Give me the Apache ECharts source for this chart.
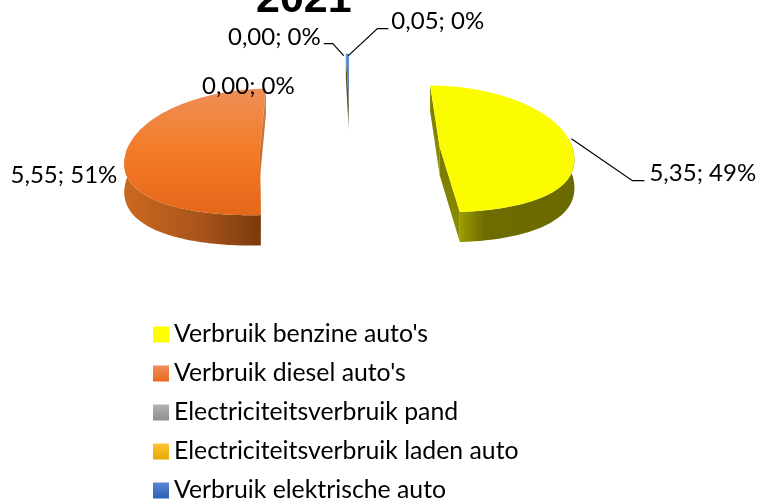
<!DOCTYPE html>
<html>
<head>
<meta charset="utf-8">
<style>
    html, body { margin: 0; padding: 0; background: #fff; }
    #chart { width: 762px; height: 500px; }
</style>
<script src="https://cdn.jsdelivr.net/npm/echarts@6/dist/echarts.min.js"></script>
</head>
<body>
<div id="chart"></div>
<script>
    const chartTitle = '2021'
    const categories = ["Verbruik benzine auto's", "Verbruik diesel auto's", 'Electriciteitsverbruik pand', 'Electriciteitsverbruik laden auto', 'Verbruik elektrische auto']
    const values = [5.35, 5.55, 0, 0, 0.05]

    const total = values.reduce((a, b) => a + b, 0)
    const FONT = 'Lato'

    // fake 3d pie: slices are projected by hand, excel draws them with a bit of perspective
    const CX = 350, CY = 149, RADIUS = 133, EXPLODE = 90, DEPTH = 28
    const PERSPECTIVE = 0.0008

    function grad(x, y, x2, y2, stops) {
        return new echarts.graphic.LinearGradient(x, y, x2, y2, stops.map((c, i) => ({
            offset: c[1] !== undefined ? c[1] : i / (stops.length - 1),
            color: c[0]
        })))
    }

    const styles = [
        {
            face: grad(0, 0, 0, 1, [['#fcfc00'], ['#fcfc00']]),
            wall: grad(0, 0, 1, 0, [['#9c9c00', 0], ['#6c6c00', 0.22], ['#6a6a00', 1]]),
            side: grad(0, 0, 0, 1, [['#777700'], ['#8f8f00']]),
            legend: '#ffff00'
        },
        {
            face: grad(0, 0, 0, 1, [['#ee8f58', 0], ['#f37b28', 0.5], ['#e4671a', 1]]),
            wall: grad(0, 0, 1, 0, [['#cb681f', 0], ['#a9551a', 0.55], ['#7a3a0c', 1]]),
            side: grad(0, 0, 0, 1, [['#d08048'], ['#c06a20']]),
            legend: grad(0, 0, 0, 1, [['#ee8f58'], ['#e9691b']])
        },
        { legend: grad(0, 0, 0, 1, [['#b2b2b2'], ['#8f8f8f']]) },
        { legend: grad(0, 0, 0, 1, [['#ffc738'], ['#e6a800']]) },
        {
            face: grad(0, 0, 0, 1, [['#5a88dc'], ['#4a74c0', 0.55], ['#6b6030', 1]]),
            side: grad(0, 0, 0, 1, [['#6a5a20', 0], ['#5a5020', 0.7], ['#c8c8c8', 1]]),
            legend: grad(0, 0, 0, 1, [['#5b87d6'], ['#2f5fb3']])
        }
    ]

    // label placement relative to the middle of each slice's outer edge
    const labelLayout = [
        { dx: 78, dy: 29, align: 'left', leader: [[0, -6], [61, 36], [73, 36]] },
        { dx: -8, dy: 20, align: 'right' },
        { dx: -50, dy: 33, align: 'right' },
        { dx: -24, dy: -16, align: 'right', leader: [[-1, 2], [-12, -10], [-21, -10]] },
        { dx: 44, dy: -32, align: 'left', leader: [[1, 2], [30, -25], [41, -25]] }
    ]

    // vertical squash, a little stronger the further back a point is, front half slightly bigger
    function squash(y) {
        const a = Math.abs(y)
        const s = 0.543 * a / (1 + a / 825)
        return y < 0 ? -s * 1.035 : s
    }

    function project(x, y, lower) {
        const depth = lower ? DEPTH * (1 - 0.0006 * y) : 0
        return [CX + x * (1 - PERSPECTIVE * y), CY - squash(y) + depth]
    }

    function sliceAngles(i) {
        let before = 0
        for (let k = 0; k < i; k++) before += values[k]
        const a0 = before / total * Math.PI * 2
        return [a0, a0 + values[i] / total * Math.PI * 2]
    }

    function renderSlice(i, params, api) {
        const value = api.value(0)
        const [a0, a1] = sliceAngles(i)
        const mid = (a0 + a1) / 2
        const ox = EXPLODE * Math.sin(mid)
        const oy = EXPLODE * Math.cos(mid)
        const pt = (a, lower) => project(ox + RADIUS * Math.sin(a), oy + RADIUS * Math.cos(a), lower)
        const apex = lower => project(ox, oy, lower)

        const arc = []
        const steps = Math.max(2, Math.ceil((a1 - a0) / 0.02))
        for (let s = 0; s <= steps; s++) arc.push(a0 + (a1 - a0) * s / steps)

        const children = []
        const st = styles[i]
        if (value > 0) {
            // side walls along the two straight edges
            [a0, a1].forEach(a => {
                children.push({
                    type: 'polygon',
                    shape: { points: [apex(false), pt(a, false), pt(a, true), apex(true)] },
                    style: { fill: st.side }
                })
            })
            const front = arc.filter(a => Math.cos(a) < 0.1)
            if (front.length > 1 && st.wall) {
                children.push({
                    type: 'polygon',
                    shape: { points: front.map(a => pt(a, false)).concat(front.slice().reverse().map(a => pt(a, true))) },
                    style: { fill: st.wall }
                })
            }
            children.push({
                type: 'polygon',
                shape: { points: [apex(false)].concat(arc.map(a => pt(a, false))) },
                style: { fill: st.face }
            })
        }

        const anchor = pt(mid, false)
        const lay = labelLayout[i]
        if (lay.leader) {
            children.push({
                type: 'polyline',
                shape: { points: lay.leader.map(p => [anchor[0] + p[0], anchor[1] + p[1]]) },
                style: { stroke: '#000', lineWidth: 1.2, fill: null }
            })
        }
        children.push({
            type: 'text',
            style: {
                x: anchor[0] + lay.dx,
                y: anchor[1] + lay.dy,
                text: value.toFixed(2).replace('.', ',') + '; ' + Math.round(value / total * 100) + '%',
                fill: '#000',
                fontFamily: FONT,
                fontSize: 24,
                align: lay.align,
                verticalAlign: 'middle'
            }
        })
        return { type: 'group', children }
    }

    const chart = echarts.init(document.getElementById('chart'), null, { renderer: 'canvas' })
    chart.setOption({
        animation: false,
        title: {
            text: chartTitle,
            left: 251,
            top: -26,
            textStyle: { fontFamily: 'Liberation Sans', fontWeight: 'bold', fontSize: 43, color: '#000' }
        },
        legend: {
            orient: 'vertical',
            left: 148,
            top: 315,
            height: 190,
            itemWidth: 16,
            itemHeight: 16,
            itemGap: 10,
            icon: 'rect',
            selectedMode: false,
            data: categories,
            textStyle: { fontFamily: FONT, fontSize: 24.8, color: '#000', lineHeight: 29 }
        },
        series: categories.map((name, i) => ({
            type: 'custom',
            name: name,
            coordinateSystem: 'none',
            silent: true,
            z: 2 + i,
            itemStyle: { color: styles[i].legend },
            data: [[values[i]]],
            renderItem: (params, api) => renderSlice(i, params, api)
        }))
    })
</script>
</body>
</html>
